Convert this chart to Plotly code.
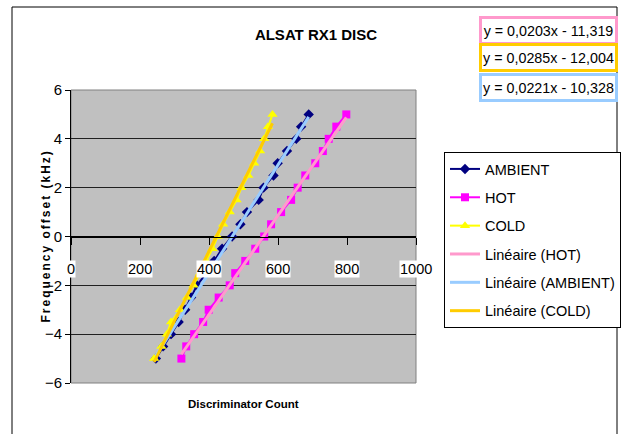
import plotly.graph_objects as go
import numpy as np

# ---------------- data ----------------
freq_offset = [-5, -4.5, -4, -3.5, -3, -2.5, -2, -1.5, -1, -0.5, 0,
               0.5, 1, 1.5, 2, 2.5, 3, 3.5, 4, 4.5, 5]
ambient_count = [246, 267, 290, 312, 331, 348, 365, 393, 415, 438, 467,
                 491, 510, 544, 558, 587, 599, 626, 653, 667, 689]
hot_count = [320, 334, 357, 383, 399, 428, 460, 476, 505, 534, 560,
             580, 609, 638, 657, 679, 708, 730, 747, 769, 798]
cold_count = [241, 262, 278, 290, 316, 336, 355, 374, 392, 410, 425,
              441, 460, 480, 494, 514, 531, 548, 560, 571, 584]

trend_names = ["Linéaire (HOT)", "Linéaire (AMBIENT)", "Linéaire (COLD)"]
trend_slopes = [0.0203, 0.0221, 0.0285]
trend_intercepts = [-11.319, -10.328, -12.004]

eq_order = [0, 2, 1]  # HOT, COLD, AMBIENT boxes from top
x_ticks = [0, 200, 400, 600, 800, 1000]
y_ticks = [-6, -4, -2, 0, 2, 4, 6]

# ---------------- style ----------------
SANS = "Liberation Sans, Arial, sans-serif"
W, H = 621, 434
L, R, T, B = 71, 416, 90, 383  # plot area pixel edges

def px_x(p):
    return (p - L) / (R - L)

def px_y(p):
    return (B - p) / (B - T)

fig = go.Figure()

series = [
    ("AMBIENT", ambient_count, "#000080", "diamond", 8),
    ("HOT", hot_count, "#FF00FF", "square", 8),
    ("COLD", cold_count, "#FFFF00", "triangle-up", 9),
]
for i, (name, xs, col, sym, ms) in enumerate(series):
    fig.add_trace(go.Scatter(
        x=xs, y=freq_offset, name=name, mode="lines+markers",
        line=dict(color=col, width=2),
        marker=dict(color=col, symbol=sym, size=ms, line=dict(width=0)),
        legendgroup=f"g{i}",
    ))

series_by_trend = [hot_count, ambient_count, cold_count]
trend_colors = ["#FF99CC", "#99CCFF", "#FFCC00"]
for j in range(3):
    xs = np.array([min(series_by_trend[j]), max(series_by_trend[j])], dtype=float)
    ys = trend_slopes[j] * xs + trend_intercepts[j]
    fig.add_trace(go.Scatter(
        x=xs, y=ys, name=trend_names[j], mode="lines",
        line=dict(color=trend_colors[j], width=3),
        legendgroup=f"g{3 + j}",
    ))

# equation boxes
eq_y = [30, 58, 87]
for k, j in enumerate(eq_order):
    m = trend_slopes[j]
    b = trend_intercepts[j]
    sign = "-" if b < 0 else "+"
    txt = f"y = {m:.4f}x {sign} {abs(b):.3f}".replace(".", ",")
    fig.add_annotation(
        text=txt, xref="paper", yref="paper",
        x=px_x(548), y=px_y(eq_y[k]), xanchor="center", yanchor="middle",
        showarrow=False, width=133, height=23,
        bgcolor="white", bordercolor=trend_colors[j], borderwidth=3, borderpad=0,
        font=dict(family=SANS, size=14.3, color="black"),
    )

# x tick labels with white background (axis crosses at y = 0)
for v in x_ticks:
    fig.add_annotation(
        text=str(v), xref="x", yref="paper", x=v, y=0.5, yshift=-32,
        showarrow=False, bgcolor="white", borderpad=0,
        font=dict(family=SANS, size=14.5, color="black"),
    )

# axis titles
fig.add_annotation(
    text='<span style="letter-spacing:2px">Frequency offset (kHz)</span>',
    xref="paper", yref="paper", x=px_x(36), y=0.5, textangle=-90,
    showarrow=False, font=dict(family=SANS, size=12, color="black", weight="bold"),
)
fig.add_annotation(
    text="Discriminator Count", xref="paper", yref="paper",
    x=0.5, y=px_y(412), showarrow=False,
    font=dict(family=SANS, size=11.5, color="black", weight="bold"),
)

# outer chart border and plot area border
fig.add_shape(type="rect", xref="paper", yref="paper",
              x0=px_x(12), x1=px_x(617), y0=px_y(445), y1=px_y(7),
              line=dict(color="black", width=1), layer="above")
fig.add_shape(type="rect", xref="paper", yref="paper",
              x0=0, x1=1, y0=0, y1=1,
              line=dict(color="#808080", width=1), layer="below")

fig.update_layout(
    width=W, height=H,
    margin=dict(l=L, r=W - R, t=T, b=H - B, autoexpand=False),
    paper_bgcolor="white", plot_bgcolor="#C0C0C0",
    title=dict(text="ALSAT RX1 DISC", x=316 / W, xref="container", xanchor="center",
               y=1 - 35 / H, yref="container", yanchor="middle",
               font=dict(family=SANS, size=15, color="black", weight="bold")),
    showlegend=True,
    legend=dict(x=px_x(444), y=px_y(152), xanchor="left", yanchor="top",
                bgcolor="white", bordercolor="black", borderwidth=1,
                traceorder="grouped", tracegroupgap=6.5,
                font=dict(family=SANS, size=14.5, color="black")),
    xaxis=dict(range=[0, 1000], tickvals=x_ticks, showticklabels=False,
               anchor="free", position=0.5, showline=True, linecolor="black",
               linewidth=1, ticks="outside", ticklen=7, tickcolor="black",
               showgrid=False, zeroline=False, fixedrange=True),
    yaxis=dict(range=[-6, 6], tickvals=y_ticks, showline=True, linecolor="black",
               linewidth=1, ticks="outside", ticklen=5, tickcolor="black",
               showgrid=True, gridcolor="#202020", gridwidth=1,
               zeroline=True, zerolinecolor="black", zerolinewidth=1,
               tickfont=dict(family=SANS, size=15, color="black"),
               fixedrange=True),
)

fig.write_html("out.html")
